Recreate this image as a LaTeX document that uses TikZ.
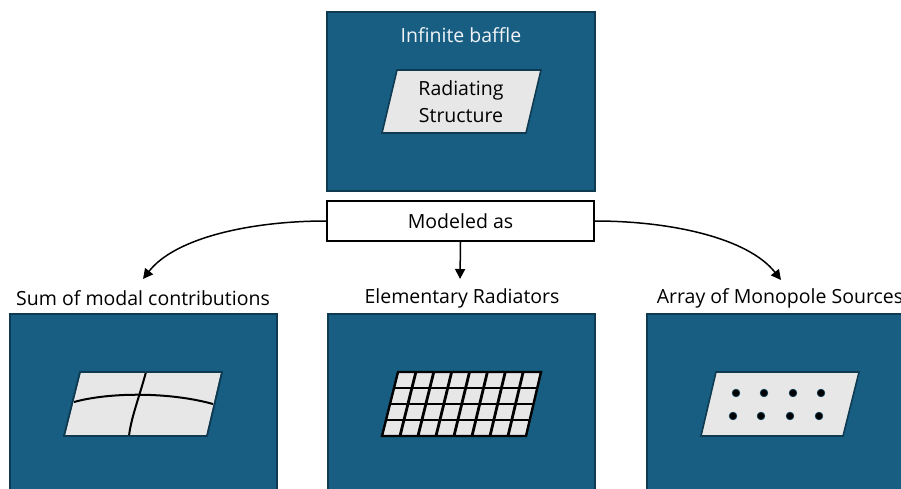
\documentclass[tikz,border=0pt]{standalone}
\usepackage{fontspec}
\setmainfont{Open Sans}
\usetikzlibrary{arrows.meta}
\definecolor{boxblue}{HTML}{185E83}
\definecolor{boxedge}{HTML}{0E3B52}
\definecolor{plate}{HTML}{E7E7E7}
\definecolor{softwhite}{HTML}{F0F4F7}
\tikzset{
  bluebox/.style={draw=boxedge, fill=boxblue, line width=1.6pt},
  platestyle/.style={draw=boxedge, fill=plate, line width=1.6pt, line join=miter},
  gridline/.style={draw=black, line width=2.8pt},
  modeline/.style={draw=black, line width=2pt},
  labeltext/.style={font=\fontsize{19.5}{23}\selectfont, text=black, inner sep=0pt},
  conn/.style={line width=1.5pt, -{Triangle[length=10pt,width=10pt]}},
  dot/.style={circle, fill=black, draw=boxedge, line width=0.8pt, minimum size=7.5pt, inner sep=0pt},
}
\begin{document}
\begin{tikzpicture}[x=1pt, y=-1pt]
\useasboundingbox (0,0) rectangle (901,489);

% top box
\path[bluebox] (327,12) rectangle (595,191);
\node[labeltext, text=softwhite] (baffle) at (461,35) {Infinite baffle};
\path[platestyle] (397,70) -- (541,70) -- (526,133) -- (382,133) -- cycle;
\node[labeltext, align=center, font=\fontsize{19.5}{27}\selectfont] (struct) at (461,102) {Radiating\\Structure};

% modeled as
\node[draw=black, fill=white, line width=1.6pt, minimum width=267pt, minimum height=40pt, inner sep=0pt,
      font=\fontsize{19.5}{23}\selectfont] (model) at (460.5,221) {Modeled as};

% end points of connectors
\coordinate (lt) at (143,279);
\coordinate (mt) at (460,279);
\coordinate (rt) at (781,280);

\draw[conn] (model.west) .. controls (250,221) and (175,238) .. (lt);
\draw[conn] (model.south) -- (mt);
\draw[conn] (model.east) .. controls (671,221) and (748,238) .. (rt);

% labels
\node[labeltext] (lsum) at (143,298) {Sum of modal contributions};
\node[labeltext] (lelem) at (462,298) {Elementary Radiators};
\node[labeltext] (lmono) at (780,298) {Array of Monopole Sources};

% bottom boxes
\path[bluebox] (10,314) rectangle (277,520);
\path[bluebox] (328,314) rectangle (595,520);
\path[bluebox] (647,314) rectangle (914,520);

% left plate with modal lines
\path[platestyle] (80,372) -- (222,372) -- (207,436) -- (64,436) -- cycle;
\draw[modeline] (74,402) .. controls (110,392) and (170,392) .. (213,404);
\draw[modeline] (146,372) .. controls (139,398) and (131,418) .. (129,436);
\path[draw=boxedge, line width=1.6pt] (80,372) -- (222,372) -- (207,436) -- (64,436) -- cycle;

% middle plate with grid
\path[platestyle] (398,372) -- (541,372) -- (526,436) -- (382,436) -- cycle;
\foreach \i in {1,...,7} {
  \draw[gridline] ({398+143*\i/8},372) -- ({382+144*\i/8},436);
}
\foreach \j in {1,2,3} {
  \draw[gridline] ({398-16*\j/4},{372+16*\j}) -- ({541-15*\j/4},{372+16*\j});
}
\path[draw=black, line width=2.4pt] (398,372) -- (541,372) -- (526,436) -- (382,436) -- cycle;

% right plate with monopoles
\path[platestyle] (716,372) -- (859,372) -- (843,436) -- (701,436) -- cycle;
\foreach \x in {736,764,793,821} { \node[dot] at (\x,393) {}; }
\foreach \x in {733,761,790,819} { \node[dot] at (\x,416) {}; }
\end{tikzpicture}
\end{document}
